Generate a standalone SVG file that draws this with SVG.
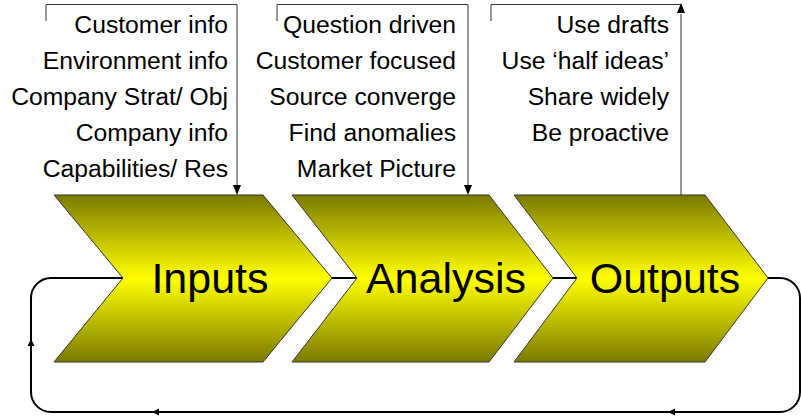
<svg xmlns="http://www.w3.org/2000/svg" width="801" height="417" viewBox="0 0 801 417">
<defs>
<linearGradient id="g" x1="0" y1="0" x2="0" y2="1">
<stop offset="0" stop-color="#7a7a00"/>
<stop offset="0.5" stop-color="#ffff00"/>
<stop offset="1" stop-color="#7a7a00"/>
</linearGradient>
</defs>
<style>
.chev{fill:url(#g);stroke:#333;stroke-width:1}
.big{font-family:"Liberation Sans",Arial,sans-serif;font-size:43px;fill:#000;text-anchor:middle}
.lbl{font-family:"Liberation Sans",Arial,sans-serif;font-size:24.7px;fill:#000;text-anchor:end}
.br{fill:none;stroke:#333;stroke-width:1}
.loop{fill:none;stroke:#000;stroke-width:2}
.ah{fill:#000}
</style>
<g id="connectors">
<path class="loop" d="M332,278 H357"/>
<path class="loop" d="M553,278 H577"/>
<path class="loop" d="M768,278 H780 A20,20 0 0 1 800,298 V392 A20,20 0 0 1 780,412 H51 A20,20 0 0 1 31,392 V298 A20,20 0 0 1 51,278 H123"/>
<polygon class="ah" points="152,412 159,408.5 159,415.5"/>
<polygon class="ah" points="668,412 675,408.5 675,415.5"/>
<polygon class="ah" points="31,339 27.5,346 34.5,346"/>
<path class="br" d="M46,21 V4.5 H237 V186"/>
<polygon class="ah" points="237,195 233,185 241,185"/>
<path class="br" d="M277,21 V4.5 H468 V186"/>
<polygon class="ah" points="468,195 464,185 472,185"/>
<path class="br" d="M491,21 V4.5 H681 M681,14 V195"/>
<polygon class="ah" points="681,3 677,13 685,13"/>
</g>
<g id="inputs">
<polygon class="chev" points="54,195 263,195 332,278 263,362 54,362 123,278"/>
<text class="big" x="210" y="293">Inputs</text>
</g>
<g id="analysis">
<polygon class="chev" points="292,195 489,195 553,278 489,362 292,362 357,278"/>
<text class="big" x="446" y="293">Analysis</text>
</g>
<g id="outputs">
<polygon class="chev" points="514,195 705,195 768,278 705,362 514,362 577,278"/>
<text class="big" x="665" y="293">Outputs</text>
</g>
<g id="inputs-notes">
<text class="lbl" x="228" y="33">Customer info</text>
<text class="lbl" x="228" y="69">Environment info</text>
<text class="lbl" x="228" y="105">Company Strat/ Obj</text>
<text class="lbl" x="228" y="141">Company info</text>
<text class="lbl" x="228" y="177">Capabilities/ Res</text>
</g>
<g id="analysis-notes">
<text class="lbl" x="456" y="33">Question driven</text>
<text class="lbl" x="456" y="69">Customer focused</text>
<text class="lbl" x="456" y="105">Source converge</text>
<text class="lbl" x="456" y="141">Find anomalies</text>
<text class="lbl" x="456" y="177">Market Picture</text>
</g>
<g id="outputs-notes">
<text class="lbl" x="669" y="33">Use drafts</text>
<text class="lbl" x="669" y="69">Use ‘half ideas’</text>
<text class="lbl" x="669" y="105">Share widely</text>
<text class="lbl" x="669" y="141">Be proactive</text>
</g>
</svg>
